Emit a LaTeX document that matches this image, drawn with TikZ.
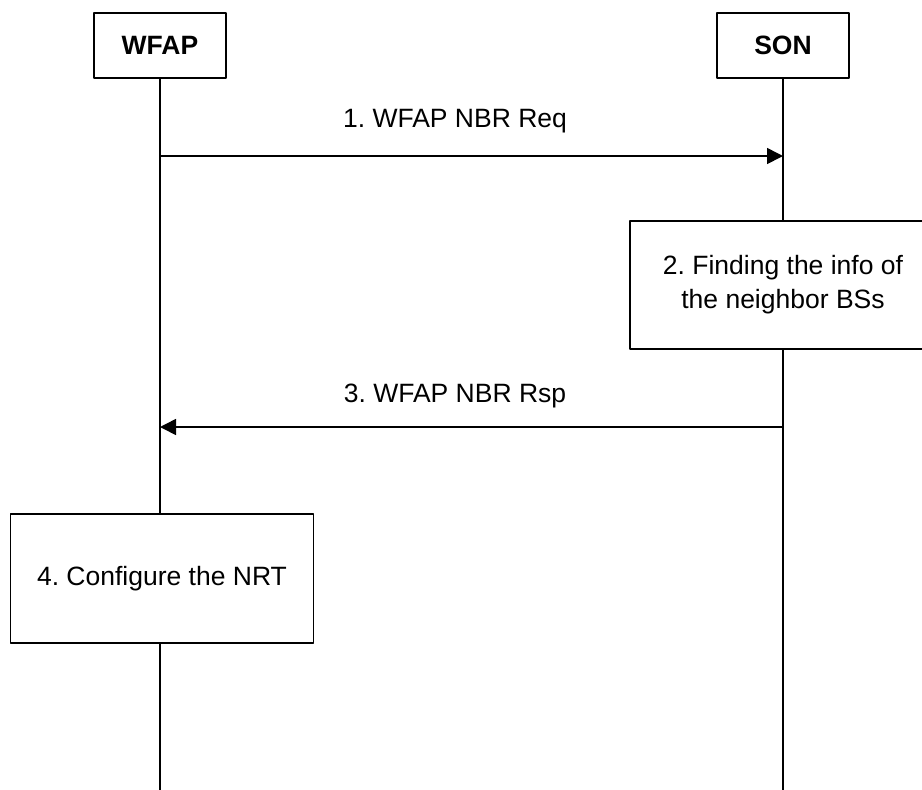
\documentclass[tikz,border=0pt]{standalone}
\usepackage{fontspec}
\setmainfont{Liberation Sans}
\usetikzlibrary{calc,arrows.meta,positioning}

\begin{document}
\frenchspacing
\begin{tikzpicture}[
		x=0.5pt, y=-0.5pt,
		line join=round,
		font=\fontsize{13.25}{17}\selectfont,
		>={Triangle[length=8pt,width=8pt]},
		entity/.style={draw, line width=0.8pt, minimum width=66pt, minimum height=32.5pt, inner sep=0pt, font=\fontsize{13.25}{17}\selectfont\bfseries},
		action/.style={draw, line width=0.8pt, align=center, inner sep=0pt},
		lifeline/.style={line width=1pt},
		msg/.style={->, line width=0.8pt},
		msglab/.style={inner sep=0pt}
	]
	
	% Parameters
	\def\xW{160}  % WFAP lifeline
	\def\xS{783}  % SON lifeline
	\def\yReq{156}
	\def\yRsp{427}
	\def\xLab{455}
	
	\useasboundingbox (0,0) rectangle (922,789);
	
	% Entities
	\node[entity] (wfap) at (\xW,45.5) {WFAP};
	\node[entity] (son) at (\xS,45.5) {SON};
	
	% Actions
	\node[action, minimum width=153pt, minimum height=64pt] (find) at (\xS,285) {2. Finding the info of\\the neighbor BSs};
	\node[action, minimum width=151.5pt, minimum height=64.5pt] (config) at (162,578.5) {4. Configure the NRT};
	
	% Lifeline ends
	\coordinate (wfapend) at (\xW,792);
	\coordinate (sonend) at (\xS,792);
	
	% Lifelines
	\draw[lifeline] (wfap.south) -- (config.north -| wfap);
	\draw[lifeline] (config.south -| wfap) -- (wfapend);
	\draw[lifeline] (son.south) -- (find.north);
	\draw[lifeline] (find.south) -- (sonend);
	
	% Messages
	\coordinate (req1) at (\xW,\yReq);
	\coordinate (req2) at (\xS,\yReq);
	\coordinate (rsp1) at (\xS,\yRsp);
	\coordinate (rsp2) at (\xW,\yRsp);
	
	\draw[msg] (req1) -- (req2);
	\node[msglab] (reqlab) at (\xLab,121) {1. WFAP NBR Req};
	
	\draw[msg] (rsp1) -- (rsp2);
	\node[msglab] (rsplab) at (\xLab,396) {3. WFAP NBR Rsp};
	
\end{tikzpicture}
\end{document}
